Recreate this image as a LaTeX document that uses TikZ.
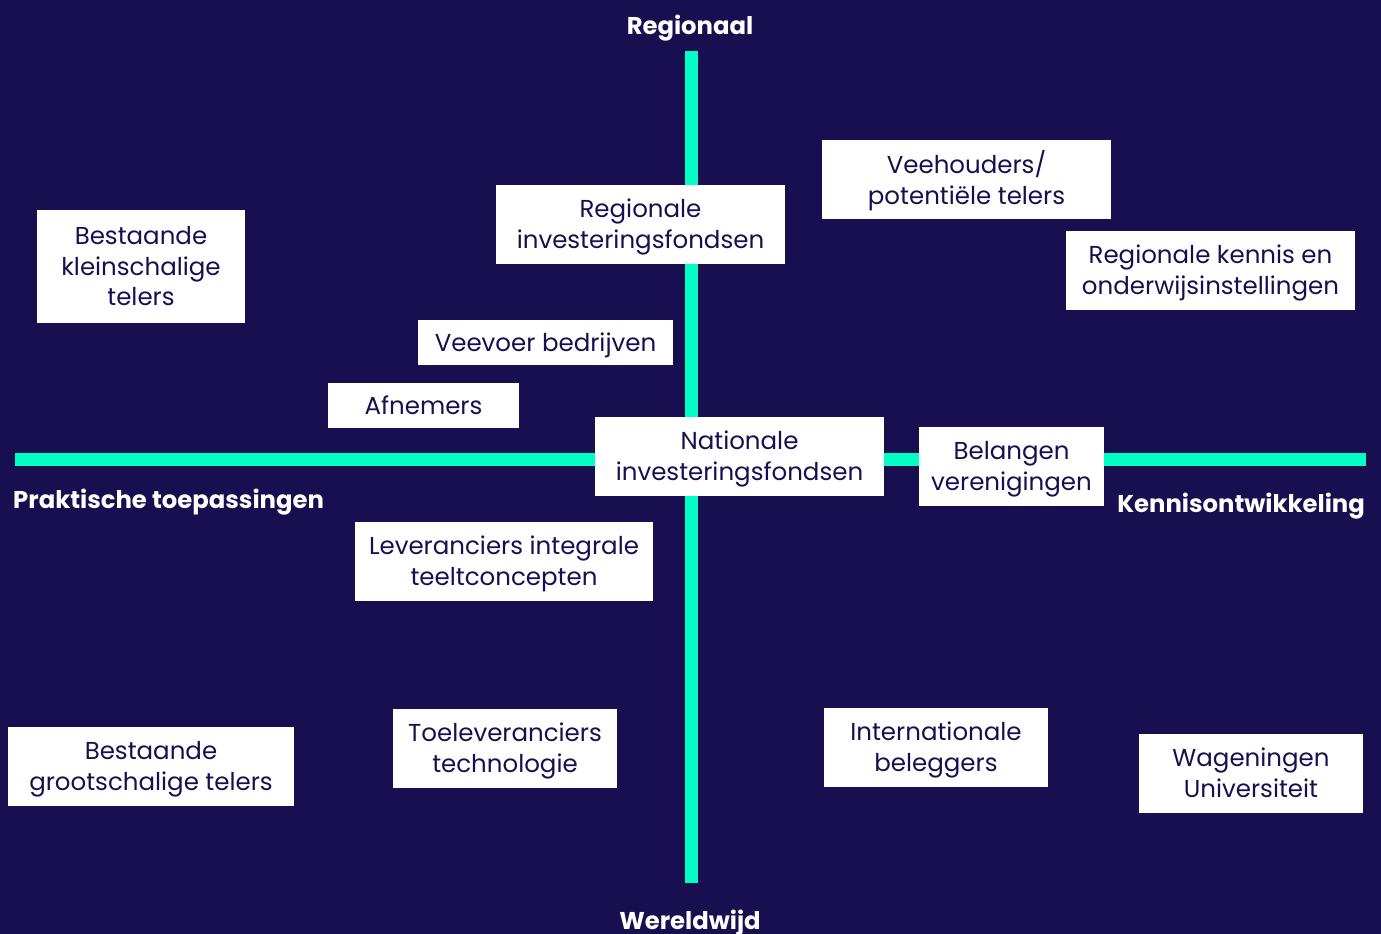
\documentclass[tikz,border=0pt]{standalone}
\usepackage{fontspec}
\setmainfont{Poppins}
\definecolor{bgnavy}{HTML}{180F50}
\definecolor{mint}{HTML}{00FFC4}
\newcommand{\boxtext}[1]{\raisebox{-2.5pt}[\height][\depth]{\begin{tabular}{@{}c@{}}#1\end{tabular}}}
\begin{document}
\begin{tikzpicture}[x=1pt,y=-1pt,
  box/.style={draw=none,fill=white,text=bgnavy,inner sep=0pt,align=center,
    font=\fontsize{24.5}{30.5}\selectfont},
  axlabel/.style={text=white,inner sep=0pt,font=\fontsize{24.3}{28}\selectfont\bfseries},
  axis/.style={mint,line width=13pt}]
\fill[bgnavy] (0,0) rectangle (1381,934);
\useasboundingbox (0,0) rectangle (1381,934);
\coordinate (top) at (691.5,51);
\coordinate (bot) at (691.5,883);
\coordinate (left) at (15,459);
\coordinate (right) at (1366,459);
\draw[axis] (top) -- (bot);
\draw[axis] (left) -- (right);
\node[box,minimum width=289,minimum height=79] (b1) at (640.5,224.5) {\boxtext{Regionale\\investeringsfondsen}};
\node[box,minimum width=289,minimum height=79] (b2) at (966.5,179.5) {\boxtext{Veehouders/\\potentiële telers}};
\node[box,minimum width=208,minimum height=113] (b3) at (141,266.5) {\boxtext{Bestaande\\kleinschalige\\telers}};
\node[box,minimum width=289,minimum height=79] (b4) at (1210.5,270.5) {\boxtext{Regionale kennis en\\onderwijsinstellingen}};
\node[box,minimum width=255,minimum height=45] (b5) at (545.5,342.5) {\boxtext{Veevoer bedrijven}};
\node[box,minimum width=191,minimum height=45] (b6) at (423.5,405.5) {\boxtext{Afnemers}};
\node[box,minimum width=289,minimum height=79] (b7) at (739.5,456.5) {\boxtext{Nationale\\investeringsfondsen}};
\node[box,minimum width=185,minimum height=79] (b8) at (1011.5,466.5) {\boxtext{Belangen\\verenigingen}};
\node[box,minimum width=298,minimum height=79] (b9) at (504,561.5) {\boxtext{Leveranciers integrale\\teeltconcepten}};
\node[box,minimum width=286,minimum height=79] (b10) at (151,766.5) {\boxtext{Bestaande\\grootschalige telers}};
\node[box,minimum width=224,minimum height=79] (b11) at (505,748.5) {\boxtext{Toeleveranciers\\technologie}};
\node[box,minimum width=224,minimum height=79] (b12) at (936,747.5) {\boxtext{Internationale\\beleggers}};
\node[box,minimum width=224,minimum height=79] (b13) at (1251,773.5) {\boxtext{Wageningen\\Universiteit}};
\node[axlabel] (l1) at (690,28.5) {Regionaal};
\node[axlabel] (l2) at (690,922.5) {Wereldwijd};
\node[axlabel,anchor=west] (l3) at (13,502.5) {Praktische toepassingen};
\node[axlabel,anchor=east] (l4) at (1365,506.5) {Kennisontwikkeling};
\end{tikzpicture}
\end{document}
